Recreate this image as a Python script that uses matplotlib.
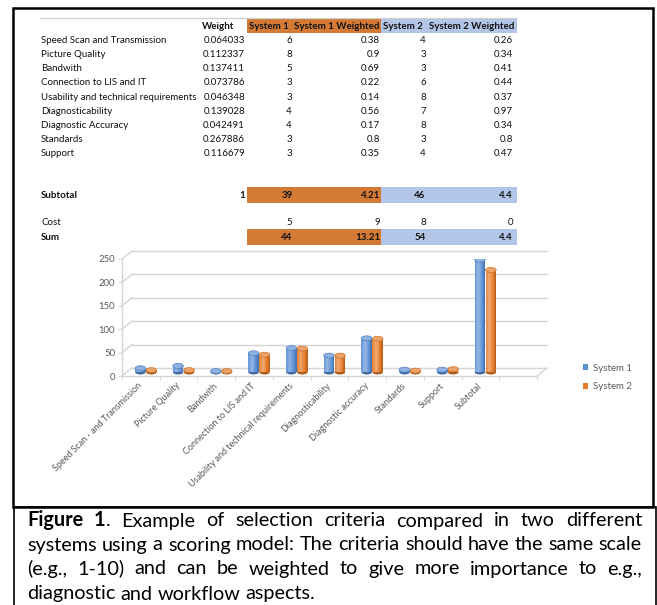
import numpy as np
import matplotlib
matplotlib.use("Agg")
from matplotlib import pyplot as plt
from matplotlib.patches import Rectangle, Ellipse, Patch
from matplotlib import colors as mcolors

plt.rcParams['font.family'] = ['Lato', 'DejaVu Sans']

# ---- table data ----
criteria = ["Speed Scan and Transmission", "Picture Quality", "Bandwith",
            "Connection to LIS and IT", "Usability and technical requirements",
            "Diagnosticability", "Diagnostic Accuracy", "Standards", "Support"]
weights = [0.064033, 0.112337, 0.137411, 0.073786, 0.046348, 0.139028, 0.042491, 0.267886, 0.116679]
sys1 = [6, 8, 5, 3, 3, 4, 4, 3, 3]
sys1_w = [0.38, 0.9, 0.69, 0.22, 0.14, 0.56, 0.17, 0.8, 0.35]
sys2 = [4, 3, 3, 6, 8, 7, 8, 3, 4]
sys2_w = [0.26, 0.34, 0.41, 0.44, 0.37, 0.97, 0.34, 0.8, 0.47]
subtotal = [1, 39, 4.21, 46, 4.4]
cost = [5, 9, 8, 0]
total = [44, 13.21, 54, 4.4]

# ---- chart data ----
chart_labels = ["Speed Scan - and Transmission", "Picture Quality", "Bandwith",
                "Connection to LIS and IT", "Usability and technical requirements",
                "Diagnosticability", "Diagnostic accuracy", "Standards", "Support",
                "Subtotal", ""]
chart_s1 = [8, 13, 2, 40, 51, 35, 72, 5, 5, 240]
chart_s2 = [4, 4, 2, 37, 50, 35, 71, 3, 6, 218]
yticks = [0, 50, 100, 150, 200, 250]

orange = "#D47A34"
light_blue = "#B4C6E7"
bar_blue = "#5B8FD6"
bar_orange = "#E57A27"
grid_c = "#D4D4D4"
label_c = "#595959"

W, H = 657, 605
fig = plt.figure(figsize=(W / 100, H / 100), dpi=100)

bg = fig.add_axes([0, 0, 1, 1])
bg.set_xlim(0, W)
bg.set_ylim(H, 0)
bg.axis("off")

# frames
bg.add_patch(Rectangle((13, 8), 640, 499, fill=False, lw=1.8, ec="black"))
bg.add_patch(Rectangle((14, 507), 642, 120, fill=False, lw=1.2, ec="black"))

# ---- table ----
fs = 7.0


def cell(x, y, s, ha="left", bold=False):
    # y is the row centre; text sits on a shared baseline
    bg.text(x, y + 2.6, s, fontsize=fs, fontweight="bold" if bold else "normal",
            va="baseline", ha=ha, color="#111111")


def fmt(v):
    return "{:g}".format(v)


bg.plot([40, 517], [18, 18], color="#CFCFCF", lw=0.9)
bg.add_patch(Rectangle((247, 19), 134, 14, fc=orange, ec="none"))
bg.add_patch(Rectangle((381, 19), 136, 14, fc=light_blue, ec="none"))
hy = 26
cell(202, hy, "Weight", bold=True)
cell(249, hy, "System 1", bold=True)
cell(380, hy, "System 1 Weighted", "right", True)
cell(383, hy, "System 2", bold=True)
cell(514, hy, "System 2 Weighted", "right", True)

for i, name in enumerate(criteria):
    y = 40.5 + 14.1 * i
    cell(41, y, name)
    cell(245, y, fmt(weights[i]), "right")
    cell(289, y, fmt(sys1[i]), "center")
    cell(380, y, fmt(sys1_w[i]), "right")
    cell(423, y, fmt(sys2[i]), "center")
    cell(513, y, fmt(sys2_w[i]), "right")

# subtotal / sum backgrounds
for top in (187, 229):
    bg.add_patch(Rectangle((247, top), 134, 16, fc=orange, ec="none"))
    bg.add_patch(Rectangle((381, top), 136, 16, fc=light_blue, ec="none"))

y = 195
cell(41, y, "Subtotal", bold=True)
cell(245, y, fmt(subtotal[0]), "right", True)
cell(287, y, fmt(subtotal[1]), "center", True)
cell(380, y, fmt(subtotal[2]), "right", True)
cell(420, y, fmt(subtotal[3]), "center", True)
cell(513, y, fmt(subtotal[4]), "right", True)

y = 222
cell(41, y, "Cost")
cell(289, y, fmt(cost[0]), "center")
cell(380, y, fmt(cost[1]), "right")
cell(423, y, fmt(cost[2]), "center")
cell(513, y, fmt(cost[3]), "right")

y = 237
cell(41, y, "Sum", bold=True)
cell(287, y, fmt(total[0]), "center", True)
cell(380, y, fmt(total[1]), "right", True)
cell(420, y, fmt(total[2]), "center", True)
cell(513, y, fmt(total[3]), "right", True)

# ---- chart ----
ax_l, ax_r, ax_top, ax_bot = 122, 537, 259, 376
ax = fig.add_axes([ax_l / W, 1 - ax_bot / H, (ax_r - ax_l) / W, (ax_bot - ax_top) / H])
ax.patch.set_alpha(0)
n_slots = len(chart_labels)
ax.set_xlim(-0.5, n_slots - 0.5)
ax.set_ylim(0, 250)
for s in ax.spines.values():
    s.set_visible(False)

px_x = (ax_r - ax_l) / n_slots
px_y = (ax_bot - ax_top) / 250.0
dx_back, dy_back = 10 / px_x, 8 / px_y
dx_mid, dy_mid = 5 / px_x, 4 / px_y
x0, x1 = -0.5, n_slots - 0.5

for v in yticks:
    ax.plot([x0 + dx_back, x1 + dx_back], [v + dy_back] * 2, color=grid_c, lw=1.0, clip_on=False, zorder=1)
    ax.plot([x0, x0 + dx_back], [v, v + dy_back], color=grid_c, lw=1.0, clip_on=False, zorder=1)
ax.plot([x0, x1], [0, 0], color=grid_c, lw=1.0, clip_on=False, zorder=1)
ax.plot([x1, x1 + dx_back], [0, dy_back], color=grid_c, lw=1.0, clip_on=False, zorder=1)
ax.plot([x0, x0], [0, 250], color=grid_c, lw=1.0, clip_on=False, zorder=1)


def shade(color, t):
    c = np.array(mcolors.to_rgb(color))
    if t < 0:
        return tuple(c * (1 + t))
    return tuple(c + (1 - c) * t)


def cylinder(xc, v, w, color, z):
    n = 12
    xs = xc + dx_mid - w / 2 + (np.arange(n) + 0.5) * w / n
    e_h = 5 / px_y
    ax.add_patch(Ellipse((xc + dx_mid, dy_mid), w, e_h, fc=shade(color, -0.25), ec="none", zorder=z))
    for k in range(n):
        t = (k + 0.5) / n
        lvl = 0.35 - 0.9 * abs(t - 0.35)
        ax.bar(xs[k], v, w / n * 1.02, bottom=dy_mid, color=shade(color, lvl), lw=0, zorder=z)
    ax.add_patch(Ellipse((xc + dx_mid, v + dy_mid), w, e_h, fc=shade(color, 0.3),
                         ec=shade(color, -0.1), lw=0.5, zorder=z + 0.1))


bw = 0.28
for i, (a, b) in enumerate(zip(chart_s1, chart_s2)):
    cylinder(i - 0.145, a, bw, bar_blue, 3 + i * 0.5)
    cylinder(i + 0.145, b, bw, bar_orange, 3.2 + i * 0.5)

ax.set_yticks(yticks)
ax.tick_params(axis="y", length=3, color=grid_c, labelsize=6.9, labelcolor=label_c, pad=2)
ax.set_xticks(range(n_slots))
ax.set_xticklabels(chart_labels, rotation=45, ha="right", va="center", rotation_mode="anchor",
                   fontsize=6.5, color=label_c)
ax.tick_params(axis="x", which="major", length=0, pad=6)
ax.set_xticks(np.arange(-0.5, n_slots, 1), minor=True)
ax.tick_params(axis="x", which="minor", length=3, color=grid_c)

fig.legend(handles=[Patch(fc=bar_blue), Patch(fc=bar_orange)], labels=["System 1", "System 2"],
           loc="upper left", bbox_to_anchor=(574 / W, 1 - 355 / H), frameon=False, fontsize=6.9,
           handlelength=0.55, handleheight=0.55, handletextpad=0.5, labelspacing=1.0,
           labelcolor=label_c)

# ---- caption ----
renderer = fig.canvas.get_renderer()
cap_fs = 12.0


def width_of(s, weight):
    t = bg.text(0, 0, s, fontsize=cap_fs, fontweight=weight)
    w = t.get_window_extent(renderer).width
    t.remove()
    return w


def plain(s):
    return [[(w, "normal")] for w in s.split()]


line2 = plain("systems using a scoring model: The criteria should have the same scale")
sp = width_of("a a", "normal") - width_of("aa", "normal")
natural = sum(width_of(s, wt) for tok in line2 for s, wt in tok) + sp * (len(line2) - 1)
cap_fs = cap_fs * 612 / natural
space_w = width_of("a a", "normal") - width_of("aa", "normal")


def caption_line(tokens, y, xa, xb, justify):
    widths = [sum(width_of(s, wt) for s, wt in tok) for tok in tokens]
    gap = (xb - xa - sum(widths)) / (len(tokens) - 1) if justify else space_w
    x = xa
    for tok, tw in zip(tokens, widths):
        xx = x
        for s, wt in tok:
            bg.text(xx, y + 5.5, s, fontsize=cap_fs, fontweight=wt, va="baseline", ha="left")
            xx += width_of(s, wt)
        x += tw + gap


line1 = [[("Figure", "bold")], [("1", "bold"), (".", "normal")]] + plain(
    "Example of selection criteria compared in two different")
caption_line(line1, 521, 27, 642, True)
caption_line(line2, 545, 27, 642, True)
caption_line(plain("(e.g., 1-10) and can be weighted to give more importance to e.g.,"), 569, 27, 642, True)
caption_line(plain("diagnostic and workflow aspects."), 594, 27, 642, False)

fig.savefig("out.png", dpi=100)
